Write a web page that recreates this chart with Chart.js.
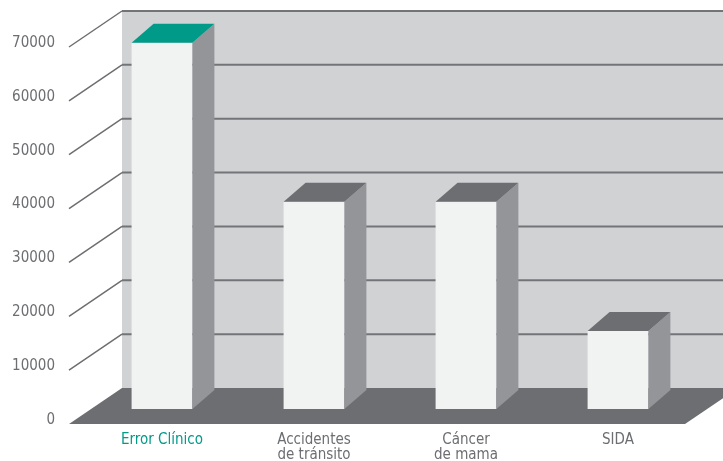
<!DOCTYPE html>
<html>
<head>
<meta charset="utf-8">
<script src="https://cdn.jsdelivr.net/npm/chart.js@4.4.1/dist/chart.umd.min.js"></script>
<style>
  body { margin: 0; background: #fff; }
  canvas { display: block; }
</style>
</head>
<body>
<canvas id="myChart" width="723" height="461"></canvas>
<script>
// data
const categories = ['Error Clínico', ['Accidentes', 'de tránsito'], ['Cáncer', 'de mama'], 'SIDA'];
const deaths = [68000, 38500, 38500, 14500];
const yTicks = [0, 10000, 20000, 30000, 40000, 50000, 60000, 70000];

const wallColor = '#d1d2d4';
const floorColor = '#6d6e71';
const gridColor = '#737477';
const frontColor = '#f1f2f2';
const sideColor = '#939598';
const topColor = '#6d6e71';
const teal = '#009a88';
const textGray = '#6d6e71';
const fontFamily = "'DejaVu Sans Condensed', 'Liberation Sans Narrow', sans-serif";

// depth offsets, relative to the plane where bars stand
const front = { dx: -17, dy: 15 };
const back = { dx: 36, dy: -21 };
const barDepth = { dx: 22, dy: -19 };

const box3d = {
  id: 'box3d',
  beforeDatasetsDraw(chart) {
    const ctx = chart.ctx;
    const area = chart.chartArea;
    const y = chart.scales.y;
    const top = y.getPixelForValue(yTicks[yTicks.length - 1]);
    const zero = y.getPixelForValue(0);
    ctx.save();
    // back wall
    ctx.fillStyle = wallColor;
    ctx.fillRect(area.left + back.dx, top + back.dy, chart.width, zero - top);
    // grid lines on the wall + slanted lines to the front
    yTicks.forEach(function(v) {
      if (v === 0) return;
      const p = y.getPixelForValue(v);
      ctx.strokeStyle = gridColor;
      ctx.lineWidth = 2;
      ctx.beginPath();
      ctx.moveTo(area.left + back.dx, p + back.dy);
      ctx.lineTo(chart.width, p + back.dy);
      ctx.stroke();
      ctx.strokeStyle = textGray;
      ctx.lineWidth = 1.5;
      ctx.beginPath();
      ctx.moveTo(area.left + front.dx, p + front.dy);
      ctx.lineTo(area.left + back.dx, p + back.dy);
      ctx.stroke();
    });
    // floor
    const fl = area.left + front.dx;
    const fr = area.right - 9;
    const ddx = back.dx - front.dx, ddy = back.dy - front.dy;
    ctx.fillStyle = floorColor;
    ctx.beginPath();
    ctx.moveTo(fl, zero + front.dy);
    ctx.lineTo(fl + ddx, zero + front.dy + ddy);
    ctx.lineTo(fr + ddx, zero + front.dy + ddy);
    ctx.lineTo(fr, zero + front.dy);
    ctx.closePath();
    ctx.fill();
    ctx.restore();
  },
  afterDatasetsDraw(chart) {
    const ctx = chart.ctx;
    const meta = chart.getDatasetMeta(0);
    ctx.save();
    meta.data.forEach(function(bar, i) {
      const p = bar.getProps(['x', 'y', 'base', 'width'], true);
      const x1 = p.x - p.width / 2, x2 = p.x + p.width / 2;
      // side
      ctx.fillStyle = sideColor;
      ctx.beginPath();
      ctx.moveTo(x2, p.y);
      ctx.lineTo(x2 + barDepth.dx, p.y + barDepth.dy);
      ctx.lineTo(x2 + barDepth.dx, p.base + barDepth.dy);
      ctx.lineTo(x2, p.base);
      ctx.closePath();
      ctx.fill();
      // top
      ctx.fillStyle = i === 0 ? teal : topColor;
      ctx.beginPath();
      ctx.moveTo(x1, p.y);
      ctx.lineTo(x1 + barDepth.dx, p.y + barDepth.dy);
      ctx.lineTo(x2 + barDepth.dx, p.y + barDepth.dy);
      ctx.lineTo(x2, p.y);
      ctx.closePath();
      ctx.fill();
    });
    ctx.restore();
  }
};

const data = {
  labels: categories,
  datasets: [{
    data: deaths,
    backgroundColor: frontColor,
    borderWidth: 0,
    barPercentage: 0.4,
    categoryPercentage: 1.0
  }]
};

const config = {
  type: 'bar',
  data,
  options: {
    responsive: false,
    animation: false,
    layout: { padding: { top: 32, right: 29, bottom: 0, left: 0 } },
    plugins: { legend: { display: false }, tooltip: { enabled: false } },
    scales: {
      x: {
        grid: { display: false, drawTicks: false },
        border: { display: false },
        ticks: {
          padding: 24,
          maxRotation: 0,
          autoSkip: false,
          font: { family: fontFamily, size: 15, lineHeight: 1.0 },
          color: function(c) { return c.index === 0 ? teal : textGray; }
        },
        afterFit: function(scale) {
          scale.height = 52;
          scale.paddingLeft = 0;
          scale.paddingRight = 0;
        }
      },
      y: {
        min: 0,
        max: 70000,
        grid: { display: false, drawTicks: false },
        border: { display: false },
        ticks: {
          stepSize: 10000,
          padding: 31,
          labelOffset: 11,
          color: textGray,
          font: { family: fontFamily, size: 15 },
          callback: function(v) { return String(v); }
        },
        afterFit: function(scale) {
          scale.width = 86;
          scale.paddingTop = 0;
          scale.paddingBottom = 0;
        }
      }
    }
  },
  plugins: [box3d]
};

const myChart = new Chart(document.getElementById('myChart'), config);
</script>
</body>
</html>
